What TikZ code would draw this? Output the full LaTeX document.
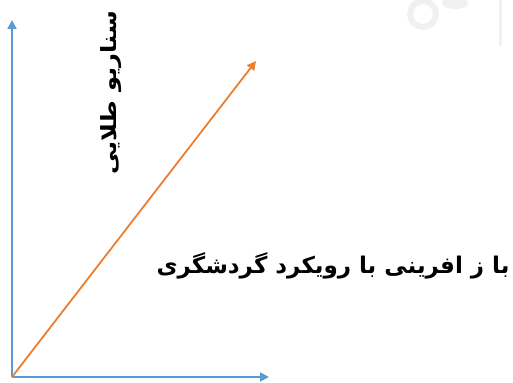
\documentclass[tikz,border=0pt]{standalone}
\usepackage{fontspec}
\usepackage{xcolor}
\usepackage{tikz}
\usetikzlibrary{arrows.meta, positioning, calc}
\newfontfamily\arabicfont[Script=Arabic]{DejaVu Sans}
\TeXXeTstate=1
\definecolor{axisblue}{HTML}{5B9BD5}
\definecolor{lineorange}{HTML}{ED7D31}
\definecolor{markgray}{HTML}{F0F0F0}

\begin{document}
\begin{tikzpicture}[x=0.5pt, y=-0.5pt,
    axis/.style={axisblue, line width=1pt, -{Triangle[width=4.5pt,length=4.5pt]}},
    trend/.style={lineorange, line width=0.9pt, -{Triangle[width=4.5pt,length=4.5pt]}},
    label/.style={inner sep=0pt, font=\arabicfont}]
    \useasboundingbox (0,0) rectangle (513,383);

    % faint watermark
    \draw[markgray, line width=3pt] (423,14) circle (13);
    \fill[markgray] (455,3) ellipse (13 and 6);
    \draw[markgray, line width=1.5pt] (500,0) -- (500,46);

    % axes
    \coordinate (O) at (12,377);
    \coordinate (ytop) at (12,20);
    \coordinate (xend) at (269,377);
    \coordinate (tip) at (256,61);
    \draw[axis] (O) -- (ytop);
    \draw[axis] (O) -- (xend);
    \draw[trend] (O) -- (tip);

    % labels
    \node[label, rotate=90, xscale=1.15, font=\arabicfont\bfseries\fontsize{10.5}{12}\selectfont] (gold) at (111,93) {\beginR سناریو طلایی\endR};
    \node[label, font=\arabicfont\bfseries\fontsize{11.5}{13}\selectfont] (tour) at (333,266) {\beginR با ز افرینی با رویکرد گردشگری\endR};
\end{tikzpicture}
\end{document}
